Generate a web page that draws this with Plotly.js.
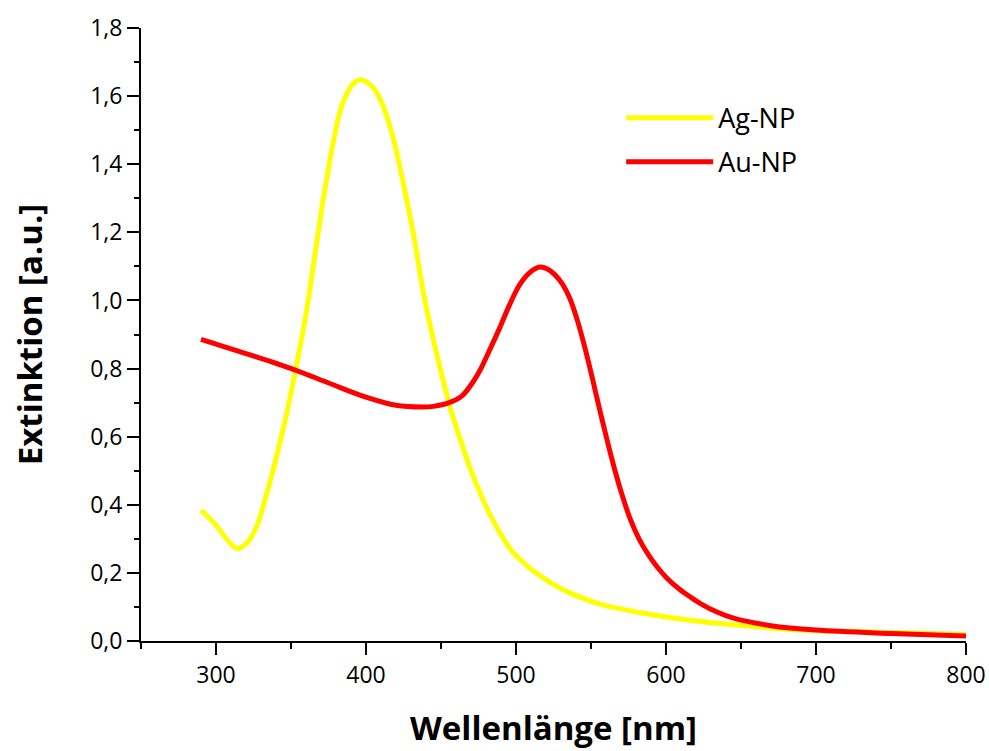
<!DOCTYPE html>
<html>
<head>
<meta charset="utf-8">
<script src="https://cdn.plot.ly/plotly-3.0.1.min.js"></script>
<style>html,body{margin:0;padding:0;background:#fff;}#chart{width:989px;height:751px;}</style>
</head>
<body>
<div id="chart"></div>
<script>
// Ag-NP (yellow) extinction spectrum
const agWavelength = [290, 300, 307, 314, 320, 327, 333, 338, 343, 347, 351, 355, 360, 365, 372, 380, 383, 386, 391, 396, 401, 406, 411, 418, 425, 432, 438, 445, 452, 456, 463, 470, 477, 484, 491, 498, 506, 516, 525, 534, 556, 583, 623, 650, 690, 750, 800];
const agExtinction = [0.384, 0.34, 0.30, 0.272, 0.285, 0.335, 0.42, 0.50, 0.59, 0.665, 0.75, 0.84, 0.96, 1.105, 1.31, 1.505, 1.56, 1.595, 1.635, 1.648, 1.640, 1.618, 1.575, 1.479, 1.342, 1.186, 1.029, 0.883, 0.756, 0.687, 0.59, 0.50, 0.425, 0.36, 0.305, 0.26, 0.226, 0.192, 0.166, 0.145, 0.108, 0.083, 0.057, 0.046, 0.032, 0.025, 0.019];

// Au-NP (red) extinction spectrum
const auWavelength = [290, 320, 352, 376, 400, 420, 438, 445, 455, 464, 472, 476, 483, 489, 496, 503, 510, 516, 521, 526, 531, 536, 541, 546, 551, 556, 561, 566, 571, 576, 582, 588, 594, 601, 609, 616, 623, 634, 645, 670, 700, 750, 800];
const auExtinction = [0.886, 0.844, 0.797, 0.756, 0.716, 0.692, 0.687, 0.689, 0.699, 0.72, 0.765, 0.795, 0.86, 0.918, 0.99, 1.05, 1.085, 1.098, 1.092, 1.075, 1.048, 1.005, 0.94, 0.86, 0.77, 0.675, 0.585, 0.50, 0.425, 0.36, 0.30, 0.255, 0.218, 0.183, 0.152, 0.13, 0.11, 0.085, 0.067, 0.045, 0.032, 0.022, 0.015];

const seriesNames = ['Ag-NP', 'Au-NP'];
const xTickValues = [300, 400, 500, 600, 700, 800];
const yTickValues = [0, 0.2, 0.4, 0.6, 0.8, 1.0, 1.2, 1.4, 1.6, 1.8];

const FONT = '"Open Sans", "DejaVu Sans", sans-serif';

const traces = [
  {x: agWavelength, y: agExtinction, name: seriesNames[0], type: 'scatter', mode: 'lines',
   line: {color: '#ffff00', width: 5, shape: 'spline', smoothing: 1}, legendgroup: 'ag'},
  {x: auWavelength, y: auExtinction, name: seriesNames[1], type: 'scatter', mode: 'lines',
   line: {color: '#ff0000', width: 5, shape: 'spline', smoothing: 1}, legendgroup: 'au'}
];

const layout = {
  width: 989, height: 751,
  margin: {l: 141, r: 23, t: 27.5, b: 110, pad: 0},
  paper_bgcolor: '#ffffff', plot_bgcolor: '#ffffff',
  separators: ',.',
  font: {family: FONT, size: 22, color: '#000000'},
  showlegend: true,
  legend: {x: 0.582, y: 0.893, xanchor: 'left', yanchor: 'top', bgcolor: 'rgba(0,0,0,0)',
           font: {family: FONT, size: 27, color: '#000'}, traceorder: 'grouped', tracegroupgap: 6,
           itemwidth: 87},
  xaxis: {
    range: [250, 800], tickvals: xTickValues, ticktext: xTickValues.map(String),
    showgrid: false, zeroline: false, showline: true, linecolor: '#000', linewidth: 2,
    ticks: 'outside', ticklen: 12, tickwidth: 2, tickcolor: '#000',
    minor: {dtick: 50, tick0: 0, ticks: 'outside', ticklen: 6, tickwidth: 2, tickcolor: '#000', showgrid: false},
    tickfont: {family: FONT, size: 23, color: '#000'},
    title: {text: 'Wellenlänge [nm]', font: {family: FONT, size: 33, color: '#000', weight: 'bold'}, standoff: 28},
    fixedrange: true
  },
  yaxis: {
    range: [0, 1.8], tickvals: yTickValues, tickformat: '.1f',
    showgrid: false, zeroline: false, showline: true, linecolor: '#000', linewidth: 2,
    ticks: 'outside', ticklen: 12, tickwidth: 2, tickcolor: '#000',
    minor: {dtick: 0.1, tick0: 0, ticks: 'outside', ticklen: 5, tickwidth: 2, tickcolor: '#000', showgrid: false},
    tickfont: {family: FONT, size: 23, color: '#000'},
    title: {text: 'Extinktion [a.u.]', font: {family: FONT, size: 33, color: '#000', weight: 'bold'}, standoff: 38},
    fixedrange: true
  }
};

Plotly.newPlot('chart', traces, layout, {displayModeBar: false, staticPlot: true});
</script>
</body>
</html>
